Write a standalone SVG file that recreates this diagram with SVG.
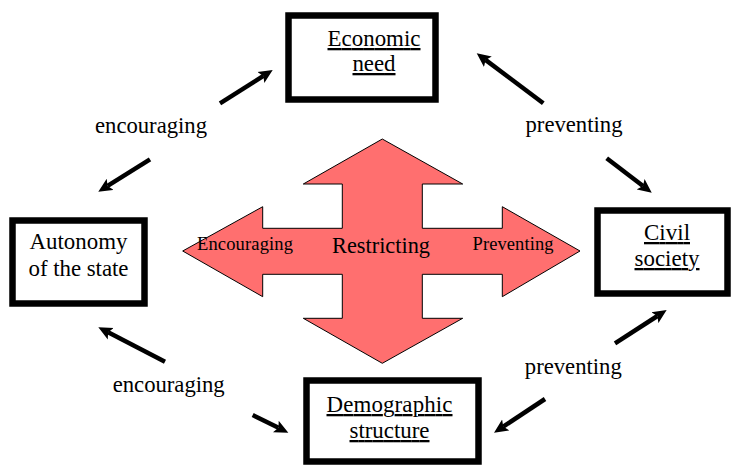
<svg xmlns="http://www.w3.org/2000/svg" width="733" height="467" viewBox="0 0 733 467">
<defs>
<style>
.box{fill:#fff;stroke:#000;stroke-width:6.5}
.conn{stroke:#000;stroke-width:4.5;fill:none;marker-end:url(#ah)}
</style>
<marker id="ah" markerUnits="userSpaceOnUse" markerWidth="16" markerHeight="14" viewBox="0 0 16 14" refX="3" refY="7" orient="auto">
<path d="M0,0.5 L14,7 L0,13.5 L3,7 z" fill="#000"/>
</marker>
</defs>
<rect width="733" height="467" fill="#fff"/>
<g font-family="Liberation Serif, Times New Roman, serif" text-anchor="middle" fill="#000">
<g id="center-arrow">
<polygon points="382.3,139 462.7,184 422.3,184 422.3,228.3 502.3,228.3 502.3,206.7 580,251 502.3,296.7 502.3,274.3 422.3,274.3 422.3,318.3 462.7,318.3 382.3,363.3 303.3,318.3 342.3,318.3 342.3,274.3 262.7,274.3 262.7,296.7 182.7,251 262.7,206.7 262.7,228.3 342.3,228.3 342.3,184 303.3,184" fill="#FF6F6F" stroke="#000" stroke-width="1"/>
<text x="245" y="250" font-size="18.5" textLength="96">Encouraging</text>
<text x="381" y="253" font-size="22.3" textLength="98">Restricting</text>
<text x="513" y="250" font-size="18.5" textLength="81">Preventing</text>
</g>
<g id="economic-need" font-size="22.9" text-decoration="underline">
<rect class="box" x="288.5" y="15.5" width="147" height="84"/>
<text x="374" y="46" textLength="93">Economic</text>
<text x="374" y="71" textLength="43">need</text>
</g>
<g id="autonomy-of-the-state" font-size="22.9">
<rect class="box" x="12.5" y="220.5" width="132" height="83"/>
<text x="78.5" y="249" textLength="98">Autonomy</text>
<text x="78.5" y="276" textLength="100">of the state</text>
</g>
<g id="civil-society" font-size="22.9" text-decoration="underline">
<rect class="box" x="597.5" y="210.5" width="130" height="83"/>
<text x="667" y="240" textLength="46">Civil</text>
<text x="667" y="266" textLength="65">society</text>
</g>
<g id="demographic-structure" font-size="22.9" text-decoration="underline">
<rect class="box" x="306.5" y="380.5" width="172" height="81"/>
<text x="389.5" y="412" textLength="126">Demographic</text>
<text x="389.5" y="438" textLength="80">structure</text>
</g>
<g id="connectors" font-size="22.7">
<line class="conn" x1="220" y1="103.3" x2="263.4" y2="75.9"/>
<line class="conn" x1="150" y1="159.3" x2="107.6" y2="185.9"/>
<line class="conn" x1="543.3" y1="103.3" x2="485.5" y2="59.9"/>
<line class="conn" x1="606.7" y1="158.3" x2="643" y2="186"/>
<line class="conn" x1="165" y1="361.7" x2="108.1" y2="332.3"/>
<line class="conn" x1="252.7" y1="415" x2="278.5" y2="427.8"/>
<line class="conn" x1="615" y1="343.3" x2="657.4" y2="316"/>
<line class="conn" x1="545" y1="399" x2="503.2" y2="426.6"/>
<text x="151" y="133" textLength="112">encouraging</text>
<text x="574" y="132" textLength="97">preventing</text>
<text x="168.7" y="392" textLength="112">encouraging</text>
<text x="573.3" y="374" textLength="97">preventing</text>
</g>
</g>
</svg>
